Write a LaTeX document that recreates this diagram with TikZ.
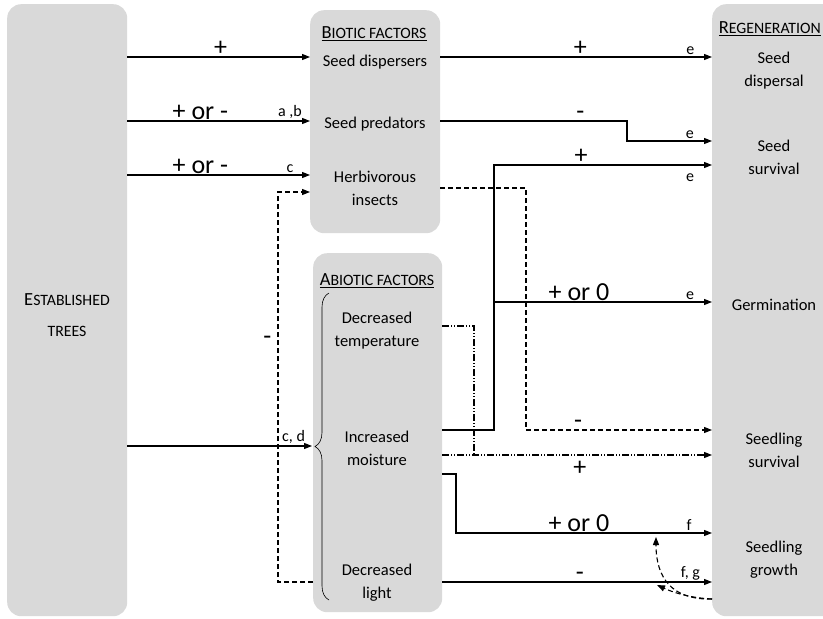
\documentclass[tikz,border=0pt]{standalone}
\usepackage{fontspec}
\setmainfont{Carlito}
\usetikzlibrary{arrows.meta,decorations.pathreplacing}

\definecolor{panelgray}{RGB}{217,217,217}
\newcommand{\fakecaps}[2]{{\fontsize{18.5}{23}\selectfont #1}{\fontsize{15.8}{23}\selectfont #2}}

\tikzset{
  panel/.style={fill=panelgray, rounded corners=14pt, inner sep=0pt, anchor=north west},
  txt/.style={font=\fontsize{16.5}{23}\selectfont, align=center},
  sign/.style={font=\fontsize{26}{28}\selectfont, inner sep=1pt},
  cite/.style={font=\fontsize{16}{18}\selectfont, inner sep=1.5pt},
  link/.style={-{Triangle[length=8pt,width=6pt]}, line width=1.1pt},
  dashlink/.style={link, dash pattern=on 5pt off 3pt},
  dotlink/.style={link, dash pattern=on 7pt off 2pt on 1pt off 2pt on 1pt off 2pt}
}

\begin{document}
\begin{tikzpicture}[x=1pt, y=-1pt]
\useasboundingbox (0,0) rectangle (823,619);

% panels
\node[panel, minimum width=120, minimum height=612] (trees) at (7,4) {};
\node[panel, minimum width=130, minimum height=223] (biotic) at (310,10) {};
\node[panel, minimum width=129, minimum height=359] (abiotic) at (313,253) {};
\node[panel, minimum width=125, minimum height=612] (regen) at (712,4) {};

% texts
\node[txt, font=\fontsize{16.5}{31}\selectfont] (est) at (67,315) {\fakecaps{E}{STABLISHED}\\\fakecaps{}{TREES}};
\node[txt] (biotitle) at (374,34) {\underline{\fakecaps{B}{IOTIC FACTORS}}};
\node[txt] (disp) at (375,62) {Seed dispersers};
\node[txt] (pred) at (375,124) {Seed predators};
\node[txt] (herb) at (375,188) {Herbivorous\\insects};
\node[txt] (abiotitle) at (377,281) {\underline{\fakecaps{A}{BIOTIC FACTORS}}};
\node[txt] (temp) at (377,331) {Decreased\\temperature};
\node[txt] (moist) at (377,448) {Increased\\moisture};
\node[txt] (light) at (377,583) {Decreased\\light};
\node[txt, anchor=east, inner sep=0pt] (regtitle) at (821,29) {\underline{\fakecaps{R}{EGENERATION}}};
\node[txt] (sdisp) at (774,71) {Seed\\dispersal};
\node[txt] (ssurv) at (774,157) {Seed\\survival};
\node[txt] (germ) at (774,305) {Germination};
\node[txt] (sgsurv) at (774,450) {Seedling\\survival};
\node[txt] (sgrow) at (774,560) {Seedling\\growth};

% brace
\draw[line width=0.6pt, decorate, decoration={brace, amplitude=14pt}]
  ([xshift=16]abiotic.west |- 0,600) -- ([xshift=16]abiotic.west |- 0,293);

\coordinate (split) at (494,302);

% trees to factors
\draw[link] (trees.east |- 0,57) -- node[sign, above, pos=0.51] {+} (biotic.west |- 0,57);
\draw[link] (trees.east |- 0,121) -- node[sign, above, pos=0.4] {+ or -}
  node[cite, above, pos=0.89] {a ,b} (biotic.west |- 0,121);
\draw[link] (trees.east |- 0,175) -- node[sign, above, pos=0.4] {+ or -}
  node[cite, above, pos=0.89] {c} (biotic.west |- 0,175);
\draw[link] (trees.east |- 0,446) -- node[cite, above, pos=0.9] {c, d} ([xshift=-1]abiotic.west |- 0,446);
\draw[dashlink] (abiotic.west |- 0,582) -| node[sign, left=5pt, pos=0.81] {-} (278,192)
  -- (biotic.west |- 0,192);

% biotic factors to regeneration
\draw[link] (biotic.east |- 0,57) -- node[sign, above, pos=0.515] {+}
  node[cite, above, pos=0.92] {e} (regen.west |- 0,57);
\draw[link] (biotic.east |- 0,121) -- node[sign, above, pos=0.75] {-} (627,121)
  |- node[cite, above, pos=0.87] {e} (regen.west |- 0,141);
\draw[dashlink] (biotic.east |- 0,188) -| (526,430)
  -- node[sign, above, pos=0.28] {-} (regen.west |- 0,430);

% abiotic factors to regeneration
\draw[link] (abiotic.east |- 0,430) -- (494,430) |- node[sign, above, pos=0.7] {+}
  node[cite, below=7pt, pos=0.95] {e} (regen.west |- 0,165);
\draw[link] (split) -- node[sign, above, pos=0.39] {+ or 0}
  node[cite, above, pos=0.9] {e} (regen.west |- split);
\draw[dotlink, -] (abiotic.east |- 0,326) -| (474,455);
\draw[dotlink] (abiotic.east |- 0,455) -- node[sign, below=5pt, pos=0.51] {+} (regen.west |- 0,455);
\draw[link] (abiotic.east |- 0,474) -| (456,533) -- node[sign, above, pos=0.48] {+ or 0}
  node[cite, above, pos=0.91] {f} (regen.west |- 0,533);
\draw[link] (abiotic.east |- 0,582) -- node[sign, above, pos=0.51] {-}
  node[cite, above, pos=0.92] {f, g} (regen.west |- 0,582);

% feedback from regeneration
\draw[dashlink] (regen.west |- 0,599) .. controls (672,600) and (656,578) .. (656,537);
\draw[dashlink] (regen.west |- 0,599) .. controls (690,598) and (672,592) .. (657,585);
\end{tikzpicture}
\end{document}
